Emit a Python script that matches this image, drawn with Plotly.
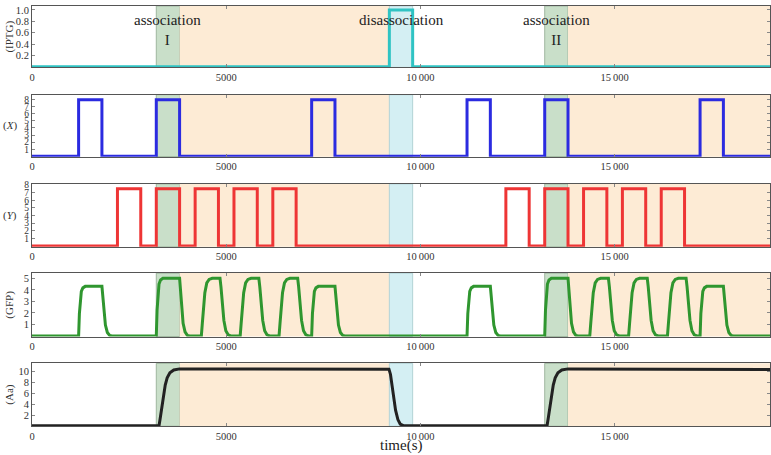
import plotly.graph_objects as go

# ---------------- data ----------------
T_MAX = 19000
X_TICKS = [0, 5000, 10000, 15000]
X_TICK_TEXT = ["0", "5000", "10\u2009000", "15\u2009000"]

REGION_START = [3200, 3800, 9200, 13200, 13800]
REGION_END = [3800, 9200, 9800, 13800, 19000]
REGION_KIND = ["assoc", "hold", "dis", "assoc", "hold"]

PULSE_LEN = 600
IPTG_ON = [9200]
IPTG_LEVEL = 1.0
X_ON = [1200, 3200, 7200, 11200, 13200, 17200]
X_LEVEL = 8.0
Y_ON = [2200, 3200, 4200, 5200, 6200, 12200, 13200, 14200, 15200, 16200]
Y_LEVEL = 7.5

GFP_ON = [1200, 3200, 4200, 5200, 6200, 7200, 11200, 13200, 14200, 15200, 16200, 17200]
GFP_PEAK = [4.3, 5.0, 5.0, 5.0, 5.0, 4.3, 4.3, 5.0, 5.0, 5.0, 5.0, 4.3]
GFP_KIND = ["fast", "fast", "lag", "lag", "lag", "fast",
            "fast", "fast", "lag", "lag", "lag", "fast"]
# pulse shapes: seconds after onset, fraction of peak
FAST_DT = [0, 20, 40, 70, 110, 170, 600, 620, 650, 690, 740, 800, 860]
FAST_FR = [0, 0.45, 0.72, 0.9, 0.97, 1.0, 1.0, 0.82, 0.5, 0.22, 0.07, 0.01, 0]
LAG_DT = [0, 160, 185, 215, 250, 300, 360, 440, 640, 665, 700, 740, 790, 850, 920]
LAG_FR = [0, 0, 0.22, 0.5, 0.75, 0.92, 0.98, 1.0, 1.0, 0.85, 0.55, 0.27, 0.09, 0.02, 0]

AA_T = [0, 3270, 3300, 3340, 3380, 3430, 3480, 3550, 3650, 3800,
        9190, 9230, 9270, 9310, 9360, 9420, 9480, 9560,
        13260, 13290, 13330, 13370, 13420, 13470, 13540, 13640, 13800, 19000]
AA_V = [0.2, 0.2, 1.5, 3.6, 5.6, 7.5, 8.8, 9.7, 10.2, 10.4,
        10.35, 9.4, 7.4, 5.2, 3.0, 1.3, 0.5, 0.2,
        0.2, 1.5, 3.6, 5.6, 7.5, 8.8, 9.7, 10.2, 10.4, 10.3]

# ---------------- helpers ----------------
def step_trace(onsets, level, base=0.0):
    xs, ys = [0], [base]
    for t in onsets:
        xs += [t, t, t + PULSE_LEN, t + PULSE_LEN]
        ys += [base, level, level, base]
    xs.append(T_MAX)
    ys.append(base)
    return xs, ys


def gfp_trace():
    xs, ys = [0], [0.0]
    for t, p, k in zip(GFP_ON, GFP_PEAK, GFP_KIND):
        dts, frs = (FAST_DT, FAST_FR) if k == "fast" else (LAG_DT, LAG_FR)
        for d, f in zip(dts, frs):
            xs.append(t + d)
            ys.append(p * f)
    xs.append(T_MAX)
    ys.append(0.0)
    return xs, ys


def ax(i, kind):
    return kind if i == 1 else f"{kind}{i}"


FONT = "Liberation Serif"
H = 455
PANELS = [(2, 64), (91.5, 154), (181.5, 245), (271.5, 335.5), (362.5, 426)]
Y_RANGES = [[-0.01, 1.07], [-0.05, 8.7], [-0.1, 8.13], [-0.05, 5.45], [0.1, 11.4]]
Y_TICKS = [[0.2, 0.4, 0.6, 0.8, 1.0], list(range(1, 9)), list(range(1, 9)),
           [1, 2, 3, 4, 5], [2, 4, 6, 8, 10]]
Y_TICK_TEXT = [["0.2", "0.4", "0.6", "0.8", "1.0"],
               [str(v) for v in range(1, 9)], [str(v) for v in range(1, 9)],
               ["1", "2", "3", "4", "5"], ["2", "4", "6", "8", "10"]]
Y_TICK_SIZE = [10.5, 9.5, 9.5, 10.5, 10.5]
Y_LABELS = ["(IPTG)", "(<i>X</i>)", "(<i>Y</i>)", "(GFP)", "(Aa)"]
Y_LABEL_ROT = [True, False, False, True, True]

fig = go.Figure()

traces = [
    (step_trace(IPTG_ON, IPTG_LEVEL), "#2fc3c3"),
    (step_trace(X_ON, X_LEVEL), "#2b2be0"),
    (step_trace(Y_ON, Y_LEVEL), "#ee3535"),
    (gfp_trace(), "#2f962f"),
    ((AA_T, AA_V), "#222222"),
]
for i, ((xs, ys), col) in enumerate(traces, start=1):
    fig.add_trace(go.Scatter(x=xs, y=ys, mode="lines",
                             line=dict(color=col, width=3),
                             xaxis=ax(i, "x"), yaxis=ax(i, "y"), showlegend=False,
                             hoverinfo="skip"))

fill = {"assoc": "#c9dfc9", "hold": "#fdebd5", "dis": "#d4eff3"}
edge = {"assoc": "#9fb79f", "hold": "rgba(0,0,0,0)", "dis": "#b3d3d6"}

layout = dict(
    width=771, height=H,
    margin=dict(l=32, r=1, t=0, b=0, pad=0),
    paper_bgcolor="white", plot_bgcolor="white",
    font=dict(family=FONT, size=11, color="#333"),
    shapes=[], annotations=[],
)
for i, (top, bot) in enumerate(PANELS, start=1):
    sx = "" if i == 1 else str(i)
    layout[f"xaxis{sx}"] = dict(
        domain=[0, 1], range=[0, T_MAX], anchor=ax(i, "y"),
        tickvals=X_TICKS, ticktext=X_TICK_TEXT,
        ticks="inside", ticklen=3, tickcolor="#888",
        showline=True, linecolor="#555", linewidth=1, mirror="ticks",
        showgrid=False, zeroline=False,
        tickfont=dict(family=FONT, size=10.5, color="#333"),
    )
    layout[f"yaxis{sx}"] = dict(
        domain=[1 - bot / H, 1 - top / H], range=Y_RANGES[i - 1], anchor=ax(i, "x"),
        tickvals=Y_TICKS[i - 1], ticktext=Y_TICK_TEXT[i - 1],
        ticks="inside", ticklen=3, tickcolor="#888",
        showline=True, linecolor="#555", linewidth=1, mirror="ticks",
        showgrid=False, zeroline=False,
        tickfont=dict(family=FONT, size=Y_TICK_SIZE[i - 1], color="#333"),
    )
    for s, e, k in zip(REGION_START, REGION_END, REGION_KIND):
        layout["shapes"].append(dict(
            type="rect", xref=ax(i, "x"), yref=f"{ax(i, 'y')} domain",
            x0=s, x1=e, y0=0, y1=1, layer="below",
            fillcolor=fill[k], line=dict(color=edge[k], width=1)))
    layout["annotations"].append(dict(
        text=Y_LABELS[i - 1], xref="paper", yref=f"{ax(i, 'y')} domain",
        x=-0.030, y=0.5, xanchor="center", yanchor="middle", showarrow=False,
        textangle=-90 if Y_LABEL_ROT[i - 1] else 0,
        font=dict(family=FONT, size=11, color="#333")))

# phase labels on the top panel
PHASE_TEXT = ["association<br>I", "disassociation", "association<br>II"]
PHASE_X = [3500, 9500, 13500]
for txt, xv in zip(PHASE_TEXT, PHASE_X):
    layout["annotations"].append(dict(
        text=txt, xref="x", yref="y domain", x=xv, y=0.93,
        xanchor="center", yanchor="top", showarrow=False,
        font=dict(family=FONT, size=15, color="#222")))

layout["annotations"].append(dict(
    text="time(s)", xref="x5", yref="paper", x=9500, y=1 - 445 / H,
    xanchor="center", yanchor="middle", showarrow=False,
    font=dict(family=FONT, size=15, color="#222")))

fig.update_layout(**layout)
fig.write_html(
    "out.html",
    config={"displayModeBar": False},
    post_script="document.body.style.margin='0px';document.body.style.padding='0px';",
)
